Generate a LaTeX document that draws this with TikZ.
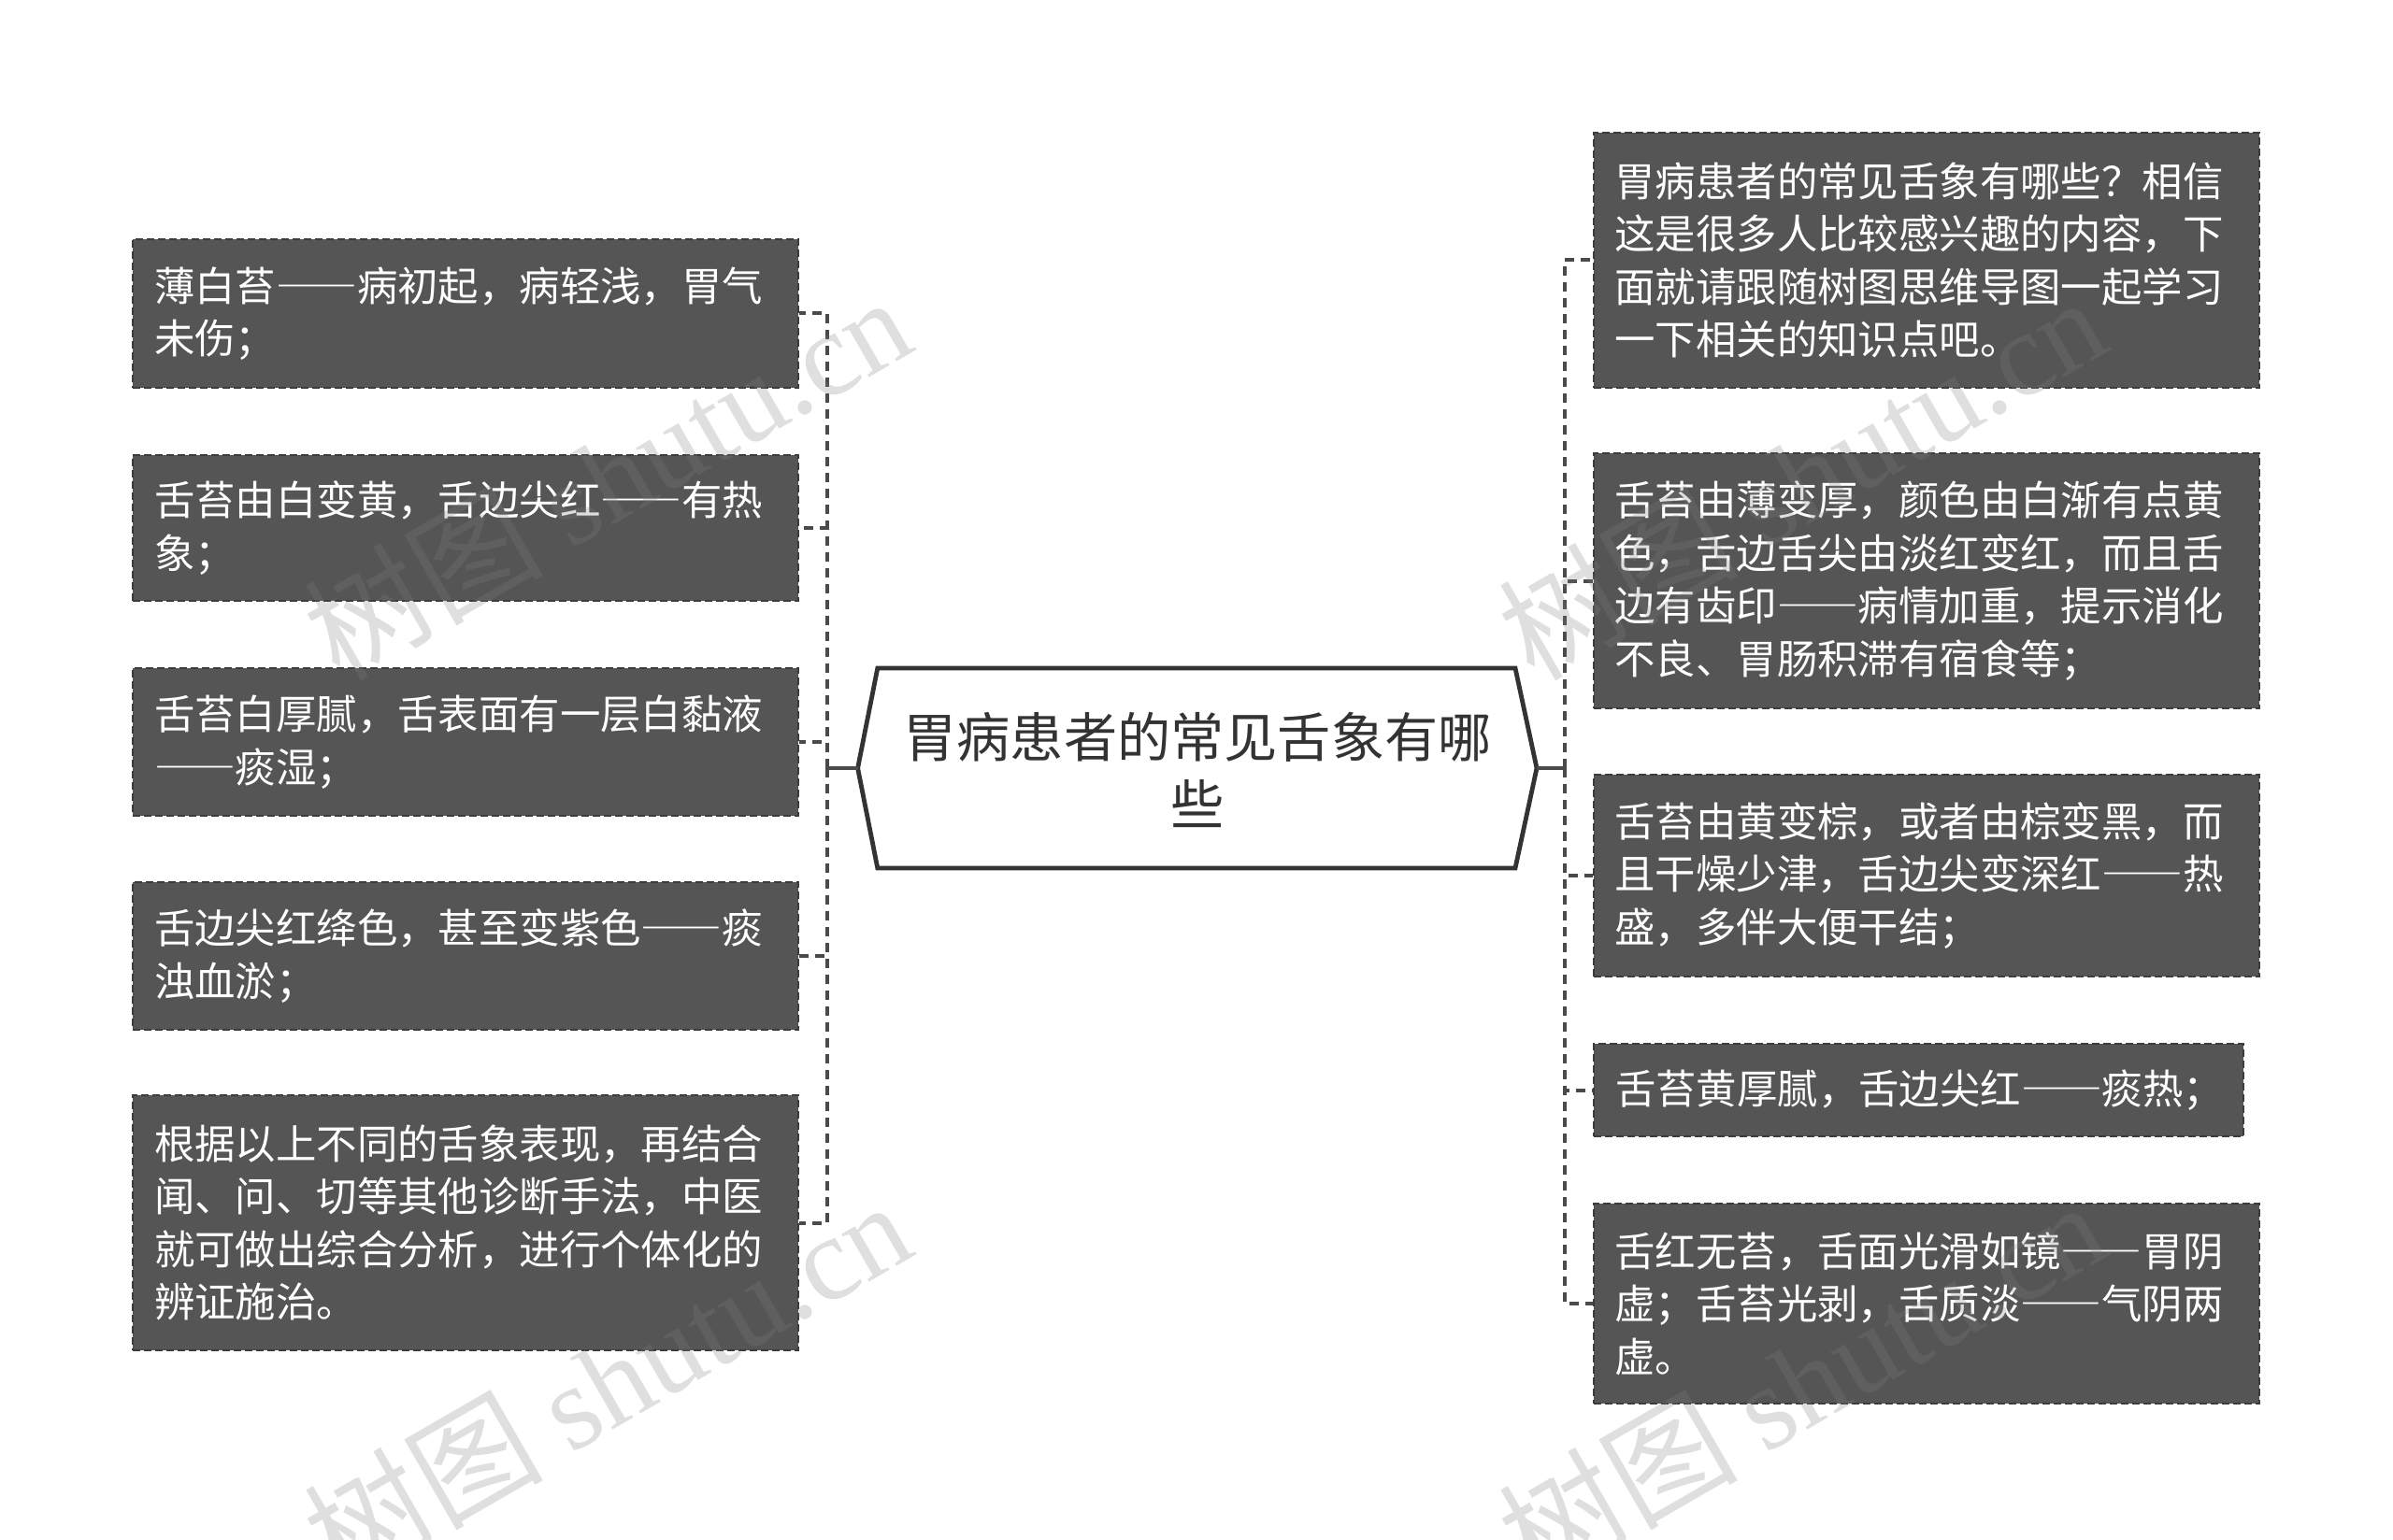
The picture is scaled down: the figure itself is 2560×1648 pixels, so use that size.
\documentclass[tikz,border=0pt]{standalone}
\usepackage{fontspec}
\setmainfont{Noto Sans CJK SC}
\newfontfamily\wmserif{Liberation Serif}
\newfontfamily\fwfont[RawFeature=+fwid]{Noto Sans CJK SC}
\newcommand\emdd{{\fwfont ——}}
\definecolor{boxfill}{HTML}{555555}
\definecolor{boxline}{HTML}{3C3C3C}
\definecolor{connc}{HTML}{4A4A4A}
\definecolor{maintext}{HTML}{333333}
\definecolor{wmc}{HTML}{808080}
\tikzset{
  leafbox/.style={fill=boxfill, draw=boxline, line width=1pt, dash pattern=on 4pt off 2pt,
    text=white, font=\fontsize{21.7}{28.3}\selectfont, align=left,
    inner xsep=11.5pt, inner ysep=0pt, anchor=center, text width=333pt},
  conn/.style={draw=connc, line width=2pt},
  dconn/.style={conn, dash pattern=on 5pt off 3.5pt},
  hexline/.style={draw=maintext, line width=2.4pt, line join=miter, fill=white},
  wmark/.style={text=wmc, opacity=0.25, rotate=30, font=\fontsize{64}{64}\selectfont, inner sep=0pt}
}
\begin{document}
\begin{tikzpicture}[x=0.5pt,y=-0.5pt]
\fill[white] (0,0) rectangle (2560,1648);
\useasboundingbox (0,0) rectangle (2560,1648);

% central topic
\draw[hexline] (917.6,822) -- (938.8,715) -- (1621,715) -- (1644,822) -- (1621,929) -- (938.8,929) -- cycle;
\coordinate (cL) at (917.6,822);
\coordinate (cR) at (1644,822);
\node[text=maintext, font=\fontsize{28.6}{36}\selectfont, align=center] (center) at (1281,824) {胃病患者的常见舌象有哪\\些};

% left boxes
\node[leafbox, minimum height=79.5pt] (L1) at (498,335.5) {薄白苔\emdd 病初起，病轻浅，胃气\\未伤；};
\node[leafbox, minimum height=78pt] (L2) at (498,565) {舌苔由白变黄，舌边尖红\emdd 有热\\象；};
\node[leafbox, minimum height=79pt] (L3) at (498,794) {舌苔白厚腻，舌表面有一层白黏液\\\emdd 痰湿；};
\node[leafbox, minimum height=79pt] (L4) at (498,1023) {舌边尖红绛色，甚至变紫色\emdd 痰\\浊血淤；};
\node[leafbox, minimum height=136.5pt] (L5) at (498,1308.5) {根据以上不同的舌象表现，再结合\\闻、问、切等其他诊断手法，中医\\就可做出综合分析，进行个体化的\\辨证施治。};

% right boxes
\node[leafbox, minimum height=136.5pt] (R1) at (2060.5,278.5) {胃病患者的常见舌象有哪些？相信\\这是很多人比较感兴趣的内容，下\\面就请跟随树图思维导图一起学习\\一下相关的知识点吧。};
\node[leafbox, minimum height=136.5pt] (R2) at (2060.5,621.5) {舌苔由薄变厚，颜色由白渐有点黄\\色，舌边舌尖由淡红变红，而且舌\\边有齿印\emdd 病情加重，提示消化\\不良、胃肠积滞有宿食等；};
\node[leafbox, minimum height=108pt] (R3) at (2060.5,937) {舌苔由黄变棕，或者由棕变黑，而\\且干燥少津，舌边尖变深红\emdd 热\\盛，多伴大便干结；};
\node[leafbox, minimum height=49.5pt, text width=324.5pt] (R4) at (2052.5,1166.5) {\mbox{舌苔黄厚腻，舌边尖红\emdd 痰热；}};
\node[leafbox, minimum height=107pt] (R5) at (2060.5,1395) {舌红无苔，舌面光滑如镜\emdd 胃阴\\虚；舌苔光剥，舌质淡\emdd 气阴两\\虚。};

% connectors
\coordinate (jL) at (885,822);
\coordinate (jR) at (1673.5,822);
\draw[conn] (cL) -- (jL);
\draw[conn] (cR) -- (jR);
\foreach \n in {L1,L2,L3,L4,L5} { \draw[dconn] (jL) |- (\n.east); }
\foreach \n in {R1,R2,R3,R4,R5} { \draw[dconn] (jR) |- (\n.west); }

% watermarks
\node[wmark] (wm1) at (649,510) {树图 {\wmserif shutu.cn}};
\node[wmark] (wm2) at (649,1478) {树图 {\wmserif shutu.cn}};
\node[wmark] (wm3) at (1927,510) {树图 {\wmserif shutu.cn}};
\node[wmark] (wm4) at (1927,1478) {树图 {\wmserif shutu.cn}};
\end{tikzpicture}
\end{document}
